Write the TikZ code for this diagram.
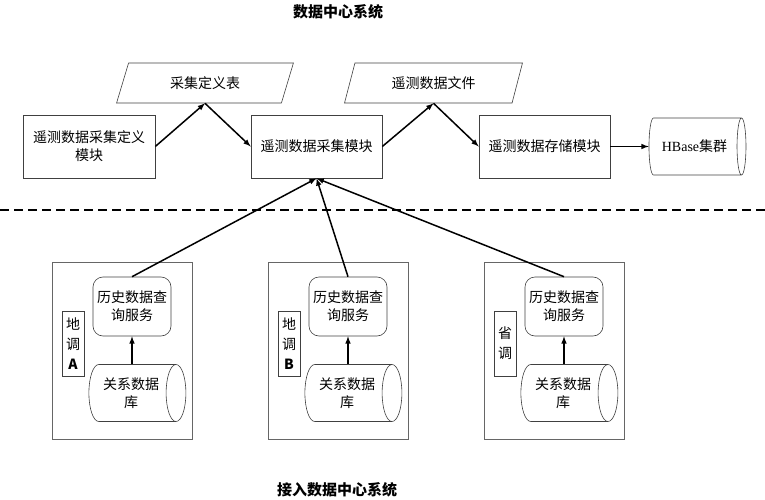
\documentclass[tikz,border=0pt]{standalone}
\usepackage{fontspec}
\setmainfont{Noto Sans CJK SC}
\newfontfamily\latinserif{Liberation Serif}
\usetikzlibrary{shapes.geometric}

\begin{document}
\begin{tikzpicture}[x=1pt, y=-1pt,
  box/.style={draw=black!75, line width=0.6pt, align=center, font=\fontsize{14}{18}\selectfont},
  slant/.style={box, trapezium, trapezium left angle=73, trapezium right angle=107,
    trapezium stretches=true, minimum width=178, minimum height=40},
  store/.style={box, cylinder, shape aspect=0.6, minimum width=57, minimum height=97, inner sep=1pt},
  service/.style={box, rounded corners=10, minimum width=78, minimum height=59, inner sep=2pt},
  tag/.style={box, inner sep=0pt, minimum width=22, minimum height=65, font=\fontsize{14}{20}\selectfont},
  frame/.style={draw=black!60, line width=0.6pt},
  conn/.style={-latex, line width=1.5pt},
  title/.style={font=\fontsize{15}{18}\selectfont\bfseries}]
  \useasboundingbox (0,0) rectangle (765,500);

  % Titles
  \node[title] (uptitle) at (338,12) {数据中心系统};
  \node[title] (lowtitle) at (337,490) {接入数据中心系统};

  % Data center
  \node[box, minimum width=132, minimum height=63] (define) at (89,146.5) {遥测数据采集定义\\模块};
  \node[slant] (deftable) at (205,83) {采集定义表};
  \node[box, minimum width=131, minimum height=63] (collect) at (316.5,146.5) {遥测数据采集模块};
  \node[slant] (datafile) at (433.5,83) {遥测数据文件};
  \node[box, minimum width=131, minimum height=63] (save) at (544.5,146.5) {遥测数据存储模块};
  \node[store] (hbase) at (694.5,146.5) {{\latinserif HBase}集群};

  \draw[conn] (define.east) -- (deftable.south);
  \draw[conn] (deftable.south) -- (collect.west);
  \draw[conn] (collect.east) -- (datafile.south);
  \draw[conn] (datafile.south) -- (save.west);
  \draw[conn] (save.east) -- (hbase.west);

  % Border between the two systems
  \coordinate (cutL) at (0,210);
  \coordinate (cutR) at (765,210);
  \draw[line width=2pt, dash pattern=on 9pt off 5pt] (cutL) -- (cutR);

  % Access sites
  \foreach \g/\nm/\lab in {52/A/{地\\调\\\textbf{A}}, 268/B/{地\\调\\\textbf{B}}, 484/C/{省\\调}} {
    \node[frame, minimum width=140, minimum height=177] (site\nm) at (\g+70,350.5) {};
    \node[service] (hist\nm) at (\g+80,306.5) {历史数据查\\询服务};
    \node[tag] (tag\nm) at (\g+21,343.5) {\lab};
    \node[store] (db\nm) at (\g+79,393) {关系数据\\库};
    \draw[conn] (db\nm.north -| hist\nm.south) -- (hist\nm.south);
    \draw[conn] (hist\nm.north) -- (collect.south);
  }
\end{tikzpicture}
\end{document}
